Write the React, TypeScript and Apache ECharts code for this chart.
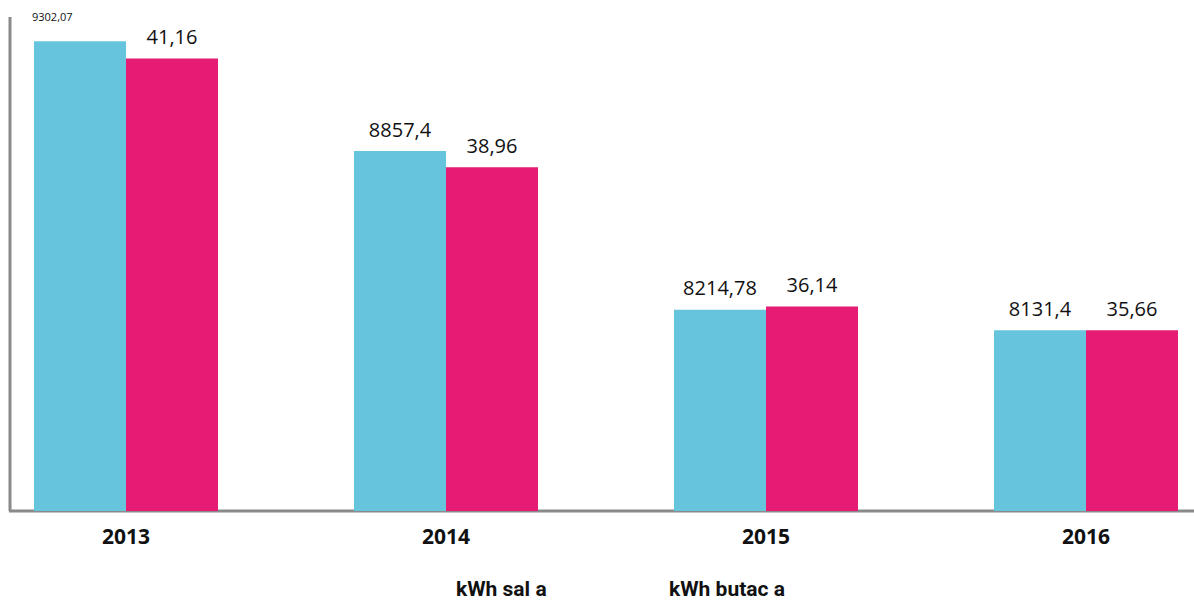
import React, { useEffect, useRef } from "react";
import * as echarts from "echarts";

const years = ["2013", "2014", "2015", "2016"];
const kwhSala = [9302.07, 8857.4, 8214.78, 8131.4];
const kwhButaca = [41.16, 38.96, 36.14, 35.66];
const seriesNames = ["kWh sal a", "kWh butac a"];
const colors = ["#66C5DD", "#E61B73"];

const fmt = (v: number) => String(v).replace(".", ",");

// chart canvas is shifted left by this many pixels inside a clipping frame
const SHIFT = 34;

export default function App() {
  const ref = useRef<HTMLDivElement>(null);
  useEffect(() => {
    if (!ref.current) return;
    const chart = echarts.init(ref.current, null, { renderer: "svg" });
    const valueLabel = {
      show: true,
      position: "top",
      distance: 12,
      fontFamily: "Open Sans",
      fontSize: 20,
      color: "#111",
      formatter: (p: any) => fmt(p.value),
    };
    const legendText = { fontFamily: "Roboto", fontWeight: "bold", fontSize: 21, color: "#111" };
    chart.setOption({
      animation: false,
      grid: { left: 0, right: 0, top: 17, bottom: 89 },
      legend: [
        {
          data: [seriesNames[0]],
          left: 446 + SHIFT,
          top: 573,
          itemWidth: 0,
          itemHeight: 0,
          textStyle: legendText,
        },
        {
          data: [seriesNames[1]],
          left: 659 + SHIFT,
          top: 573,
          itemWidth: 0,
          itemHeight: 0,
          textStyle: legendText,
        },
      ],
      xAxis: {
        type: "category",
        data: years,
        axisLine: { show: false },
        axisTick: { show: false },
        axisLabel: {
          margin: 14,
          fontFamily: "Open Sans",
          fontWeight: "bold",
          fontSize: 21,
          color: "#111",
        },
      },
      yAxis: [
        { type: "value", min: 7400, max: 9400, show: false },
        { type: "value", min: 32, max: 42, show: false },
      ],
      graphic: [
        { type: "line", shape: { x1: 10 + SHIFT, y1: 17, x2: 10 + SHIFT, y2: 511 }, style: { stroke: "#8a8a8a", lineWidth: 3 } },
        { type: "line", shape: { x1: 9 + SHIFT, y1: 511, x2: 1194 + SHIFT, y2: 511 }, style: { stroke: "#8a8a8a", lineWidth: 3 } },
      ],
      series: [
        {
          name: seriesNames[0],
          type: "bar",
          yAxisIndex: 0,
          barWidth: 92,
          barGap: "0%",
          itemStyle: { color: colors[0] },
          label: valueLabel,
          data: kwhSala.map((v, i) =>
            i === 0
              ? {
                  value: v,
                  label: {
                    show: true,
                    position: [-2, -30],
                    align: "left",
                    verticalAlign: "top",
                    fontSize: 11,
                    fontFamily: "Open Sans",
                    color: "#111",
                  },
                }
              : v
          ),
        },
        {
          name: seriesNames[1],
          type: "bar",
          yAxisIndex: 1,
          barWidth: 92,
          barGap: "0%",
          itemStyle: { color: colors[1] },
          label: valueLabel,
          data: kwhButaca,
        },
      ],
    });
    return () => chart.dispose();
  }, []);
  return (
    <div style={{ position: "absolute", left: 0, top: 0, width: 1194, height: 600, overflow: "hidden" }}>
      <div ref={ref} style={{ position: "absolute", left: -SHIFT, top: 0, width: 1280, height: 600 }} />
    </div>
  );
}
